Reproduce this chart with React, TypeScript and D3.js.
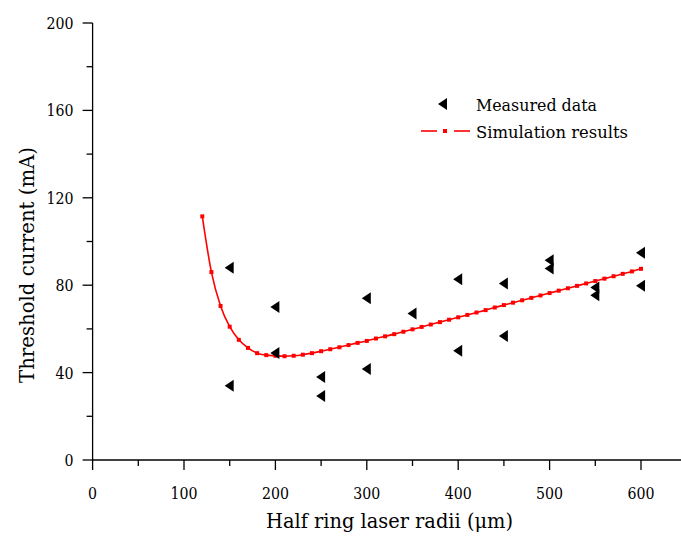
import React, { useEffect, useRef } from 'react';
import * as d3 from 'd3';

// measured threshold currents (mA) vs half ring radius (um)
const measuredX = [150, 150, 200, 200, 250, 250, 300, 300, 350, 400, 400, 450, 450, 500, 500, 550, 550, 600, 600];
const measuredY = [88, 34, 70, 49, 38, 29.3, 74, 41.6, 67, 82.7, 50, 80.8, 56.7, 91.4, 87.6, 79, 75.4, 94.8, 79.7];

// simulation curve, sampled every 10 um
const simX = [120, 130, 140, 150, 160, 170, 180, 190, 200, 210, 220, 230, 240, 250, 260, 270, 280, 290, 300,
  310, 320, 330, 340, 350, 360, 370, 380, 390, 400, 410, 420, 430, 440, 450, 460, 470, 480, 490, 500,
  510, 520, 530, 540, 550, 560, 570, 580, 590, 600];
const simY = [111.5, 86, 70.5, 61, 55, 51.3, 48.9, 48, 47.7, 47.5, 47.7, 48.2, 48.9, 49.8, 50.7, 51.6, 52.6, 53.6, 54.5,
  55.6, 56.6, 57.6, 58.7, 59.8, 60.9, 62.0, 63.1, 64.2, 65.3, 66.4, 67.5, 68.6, 69.8, 70.9, 72.0, 73.1, 74.2, 75.3, 76.4,
  77.5, 78.6, 79.7, 80.8, 81.9, 83.0, 84.1, 85.2, 86.3, 87.5];

const xTicks = [0, 100, 200, 300, 400, 500, 600];
const yTicks = [0, 40, 80, 120, 160, 200];
const legendLabels = ['Measured data', 'Simulation results'];

const App = () => {
  const svgRef = useRef<SVGSVGElement>(null);

  useEffect(() => {
    const width = 681;
    const height = 537;
    // Times-like serif is not installed, DejaVu Serif squeezed with textLength instead
    const font = 'DejaVu Serif';

    const svg = d3.select(svgRef.current);
    svg.selectAll('*').remove();
    svg.attr('width', width).attr('height', height);

    const x = d3.scaleLinear().domain([0, 650]).range([92.6, 92.6 + 650 * 0.914]);
    const y = d3.scaleLinear().domain([0, 200]).range([460, 23]);

    // axes
    const xAxis = svg.append('g').attr('transform', `translate(0,${y(0)})`);
    xAxis.append('line').attr('x1', x(0)).attr('x2', width).attr('stroke', '#000').attr('stroke-width', 1.3);
    d3.range(0, 651, 50).forEach(v => {
      const major = v % 100 === 0;
      xAxis.append('line')
        .attr('x1', x(v)).attr('x2', x(v))
        .attr('y1', 0).attr('y2', major ? 10 : 6)
        .attr('stroke', '#000').attr('stroke-width', 1.3);
    });
    xAxis.selectAll('text.tick').data(xTicks).enter().append('text')
      .attr('x', d => x(d)).attr('y', 39)
      .attr('text-anchor', 'middle')
      .attr('textLength', d => String(d).length * 9)
      .attr('lengthAdjust', 'spacingAndGlyphs')
      .style('font-family', font).style('font-size', '16px')
      .text(d => d);

    const yAxis = svg.append('g').attr('transform', `translate(${x(0)},0)`);
    yAxis.append('line').attr('y1', y(0)).attr('y2', y(200)).attr('stroke', '#000').attr('stroke-width', 1.3);
    d3.range(0, 201, 20).forEach(v => {
      const major = v % 40 === 0;
      yAxis.append('line')
        .attr('y1', y(v)).attr('y2', y(v))
        .attr('x1', 0).attr('x2', major ? -10 : -6)
        .attr('stroke', '#000').attr('stroke-width', 1.3);
    });
    yAxis.selectAll('text.tick').data(yTicks).enter().append('text')
      .attr('x', -19).attr('y', d => y(d) + 6)
      .attr('text-anchor', 'end')
      .attr('textLength', d => String(d).length * 9)
      .attr('lengthAdjust', 'spacingAndGlyphs')
      .style('font-family', font).style('font-size', '16px')
      .text(d => d);

    svg.append('text')
      .attr('x', 389.5).attr('y', 528)
      .attr('text-anchor', 'middle')
      .attr('textLength', 247)
      .attr('lengthAdjust', 'spacingAndGlyphs')
      .style('font-family', font).style('font-size', '20px')
      .text('Half ring laser radii (\u03bcm)');

    svg.append('text')
      .attr('transform', 'translate(34,265) rotate(-90)')
      .attr('text-anchor', 'middle')
      .attr('textLength', 236)
      .attr('lengthAdjust', 'spacingAndGlyphs')
      .style('font-family', font).style('font-size', '20px')
      .text('Threshold current (mA)');

    // simulation curve
    const sim = simX.map((v, i) => [v, simY[i]] as [number, number]);
    const line = d3.line<[number, number]>()
      .x(d => x(d[0])).y(d => y(d[1]))
      .curve(d3.curveMonotoneX);
    svg.append('path')
      .datum(sim)
      .attr('d', line)
      .attr('fill', 'none')
      .attr('stroke', '#ff0000')
      .attr('stroke-width', 1.6);
    svg.selectAll('rect.sim').data(sim).enter().append('rect')
      .attr('x', d => x(d[0]) - 2).attr('y', d => y(d[1]) - 2)
      .attr('width', 4).attr('height', 4)
      .attr('fill', '#ff0000');

    // measured points, left-pointing triangles
    const tri = (cx: number, cy: number) => `M${cx - 5},${cy} L${cx + 4},${cy - 6} L${cx + 4},${cy + 6} Z`;
    svg.selectAll('path.meas').data(measuredX).enter().append('path')
      .attr('d', (d, i) => tri(x(d), y(measuredY[i])))
      .attr('fill', '#000');

    // legend
    const lg = svg.append('g');
    lg.append('path').attr('d', tri(443, 104)).attr('fill', '#000');
    lg.append('line').attr('x1', 421).attr('x2', 437).attr('y1', 131).attr('y2', 131)
      .attr('stroke', '#ff0000').attr('stroke-width', 1.6);
    lg.append('line').attr('x1', 454).attr('x2', 470).attr('y1', 131).attr('y2', 131)
      .attr('stroke', '#ff0000').attr('stroke-width', 1.6);
    lg.append('rect').attr('x', 443).attr('y', 129).attr('width', 4).attr('height', 4).attr('fill', '#ff0000');
    const legendWidths = [121, 152];
    lg.selectAll('text').data(legendLabels).enter().append('text')
      .attr('x', 476).attr('y', (d, i) => 111 + i * 27)
      .attr('textLength', (d, i) => legendWidths[i])
      .attr('lengthAdjust', 'spacingAndGlyphs')
      .style('font-family', font).style('font-size', '17.5px')
      .text(d => d);
  }, []);

  return <svg ref={svgRef} style={{ position: 'absolute', left: 0, top: 0 }}></svg>;
};

export default App;
